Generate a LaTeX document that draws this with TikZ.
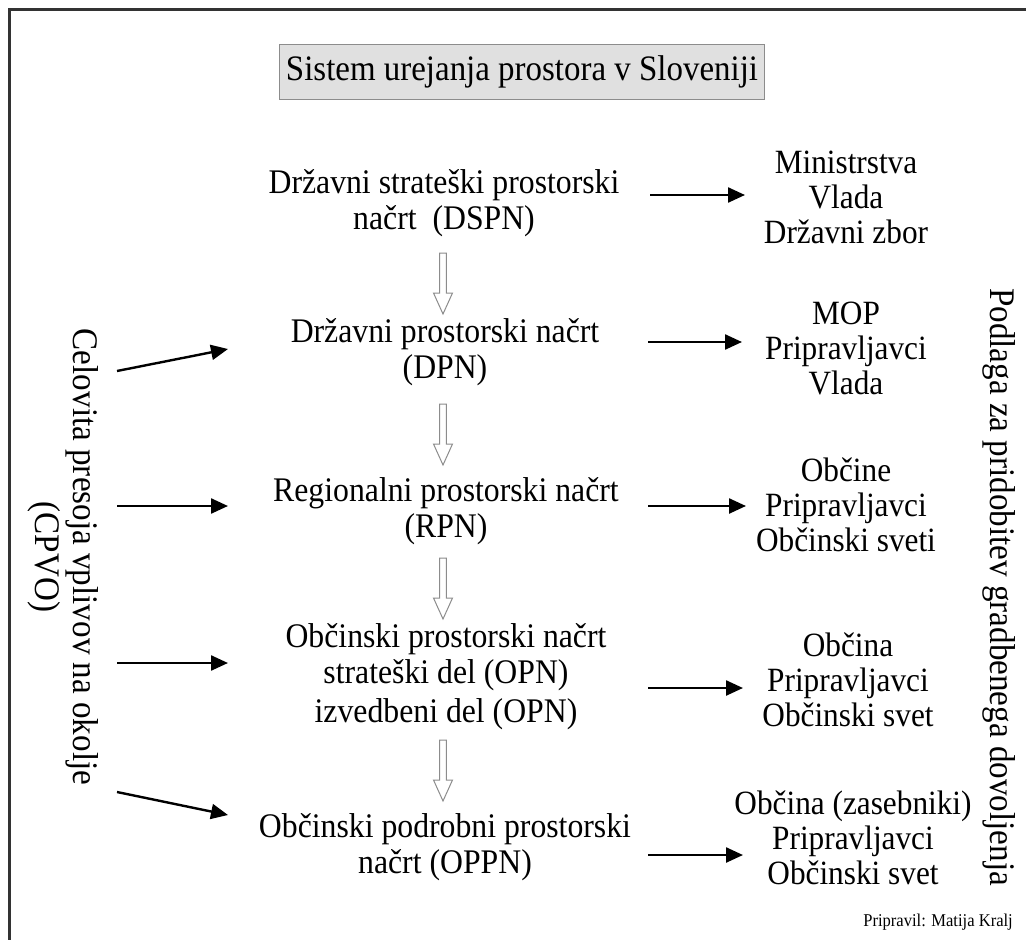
\documentclass[tikz,border=0pt]{standalone}
\usepackage{fontspec}
\setmainfont{Liberation Serif}[FakeStretch=0.92]
\usetikzlibrary{arrows.meta}

\tikzset{
  plan/.style={align=center, inner sep=0pt, font=\fontsize{34.5}{36}\selectfont},
  side/.style={align=center, inner sep=0pt, font=\fontsize{34}{35}\selectfont},
  upright/.style={align=center, inner sep=0pt, rotate=-90, font=\fontsize{36}{38}\selectfont},
  flow/.style={line width=2.4pt, -{Triangle[length=17pt,width=15pt]}},
  pics/hollowdown/.style={code={
    \draw[black!45, line width=1pt, fill=white]
      (-3.3,0) -- (-3.3,40) -- (-9.5,40) -- (0,61) -- (9.5,40) -- (3.3,40) -- (3.3,0) -- cycle;
  }}
}

\begin{document}
\begin{tikzpicture}[x=1pt, y=-1pt]
\useasboundingbox (0,0) rectangle (1026,940);
\fill[white] (0,0) rectangle (1026,940);

% frame
\draw[line width=3pt, black!80] (9,940) -- (9,9) -- (1026,9);

% title
\node[draw=black!45, fill=black!12, line width=0.8pt, minimum width=485pt, minimum height=55pt,
      inner sep=0pt, font=\fontsize{35.8}{38}\selectfont] (title) at (522,72)
      {Sistem urejanja prostora v Sloveniji};

% planning documents
\node[plan] (dspn) at (444,203) {Državni strateški prostorski\\načrt~~(DSPN)};
\node[plan] (dpn)  at (445,352) {Državni prostorski načrt\\(DPN)};
\node[plan] (rpn)  at (446,511) {Regionalni prostorski načrt\\(RPN)};
\node[plan] (opn)  at (446,677) {Občinski prostorski načrt\\strateški del (OPN)\\[3pt]izvedbeni del (OPN)};
\node[plan] (oppn) at (445,847) {Občinski podrobni prostorski\\načrt (OPPN)};

% responsible bodies
\node[side] (b1) at (846,197) {Ministrstva\\Vlada\\Državni zbor};
\node[side] (b2) at (846,348) {MOP\\Pripravljavci\\Vlada};
\node[side] (b3) at (846,505) {Občine\\Pripravljavci\\Občinski sveti};
\node[side] (b4) at (848,680) {Občina\\Pripravljavci\\Občinski svet};
\node[side] (b5) at (853,838) {Občina (zasebniki)\\Pripravljavci\\Občinski svet};

% vertical captions
\node[upright] (cpvo) at (63,557) {Celovita presoja vplivov na okolje\\(CPVO)};
\node[upright] (podlaga) at (999,587) {Podlaga za pridobitev gradbenega dovoljenja};

% author
\node[anchor=east, inner sep=0pt, font=\fontsize{18}{20}\selectfont] (author) at (1013,922)
  {Pripravil: Matija Kralj};

% hollow arrows between levels
\pic at (443,253) {hollowdown};
\pic at (443,404) {hollowdown};
\pic at (443,558) {hollowdown};
\pic at (443,740) {hollowdown};

% arrow end points
\coordinate (s1) at (650,195); \coordinate (e1) at (745,195);
\coordinate (s2) at (648,342); \coordinate (e2) at (742,342);
\coordinate (s3) at (648,506); \coordinate (e3) at (746,506);
\coordinate (s4) at (648,688); \coordinate (e4) at (743,688);
\coordinate (s5) at (648,855); \coordinate (e5) at (743,855);

\coordinate (l1) at (117,371); \coordinate (m1) at (228,349);
\coordinate (l2) at (117,506); \coordinate (m2) at (228,506);
\coordinate (l3) at (117,663); \coordinate (m3) at (228,663);
\coordinate (l4) at (117,792); \coordinate (m4) at (228,815);

\foreach \i in {1,...,5} \draw[flow] (s\i) -- (e\i);
\foreach \i in {1,...,4} \draw[flow] (l\i) -- (m\i);
\end{tikzpicture}
\end{document}
